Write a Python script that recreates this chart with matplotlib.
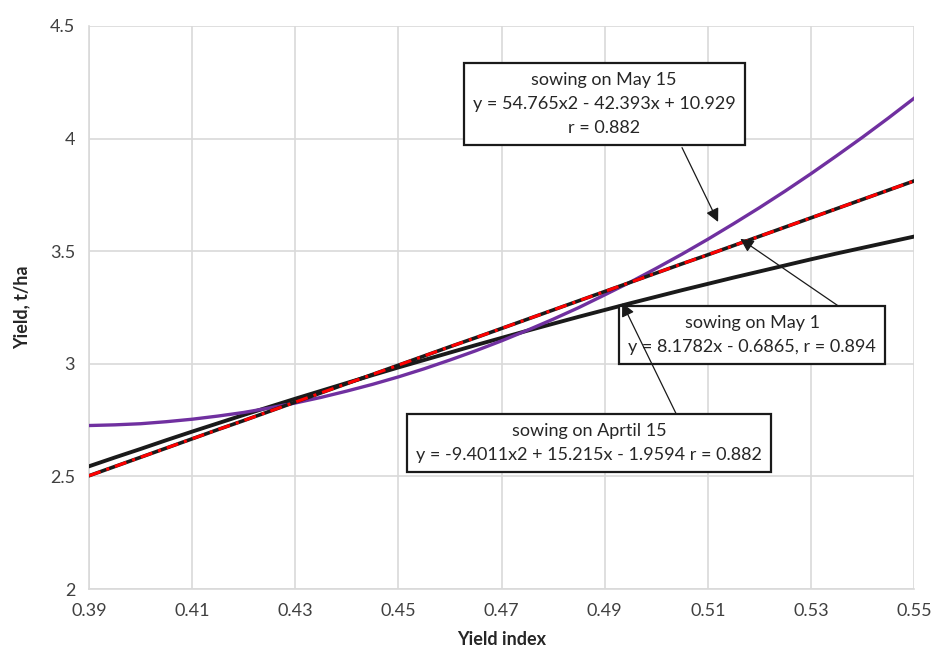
import numpy as np
import matplotlib.pyplot as plt

plt.rcParams['font.family'] = ['Lato', 'DejaVu Sans']

# Yield index (x) and yield (t/ha)
yield_index = [0.390, 0.395, 0.400, 0.405, 0.410, 0.415, 0.420, 0.425, 0.430,
               0.435, 0.440, 0.445, 0.450, 0.455, 0.460, 0.465, 0.470, 0.475,
               0.480, 0.485, 0.490, 0.495, 0.500, 0.505, 0.510, 0.515, 0.520,
               0.525, 0.530, 0.535, 0.540, 0.545, 0.550]
may15 = [2.726, 2.729, 2.734, 2.743, 2.754, 2.768, 2.784, 2.804, 2.826,
         2.851, 2.879, 2.909, 2.942, 2.978, 3.017, 3.058, 3.102, 3.149,
         3.198, 3.250, 3.306, 3.363, 3.424, 3.487, 3.553, 3.622, 3.693,
         3.767, 3.844, 3.924, 4.006, 4.091, 4.179]
may1 = [2.503, 2.544, 2.585, 2.626, 2.667, 2.708, 2.748, 2.789, 2.830,
        2.871, 2.912, 2.953, 2.994, 3.035, 3.076, 3.116, 3.157, 3.198,
        3.239, 3.280, 3.321, 3.362, 3.403, 3.444, 3.484, 3.525, 3.566,
        3.607, 3.648, 3.689, 3.730, 3.771, 3.812]
april15 = [2.545, 2.584, 2.622, 2.661, 2.699, 2.736, 2.773, 2.809, 2.845,
           2.880, 2.915, 2.950, 2.984, 3.017, 3.050, 3.083, 3.115, 3.147,
           3.178, 3.209, 3.239, 3.269, 3.298, 3.327, 3.355, 3.383, 3.410,
           3.437, 3.464, 3.490, 3.515, 3.540, 3.565]

x_ticks = [0.39, 0.41, 0.43, 0.45, 0.47, 0.49, 0.51, 0.53, 0.55]
y_ticks = [2, 2.5, 3, 3.5, 4, 4.5]

label_may15 = "sowing on May 15\ny = 54.765x2 - 42.393x + 10.929\nr = 0.882"
label_may1 = "sowing on May 1\ny = 8.1782x - 0.6865, r = 0.894"
label_apr15 = "sowing on Aprtil 15\ny = -9.4011x2 + 15.215x - 1.9594 r = 0.882"

fig = plt.figure(figsize=(9.33, 6.5), dpi=100)
ax = fig.add_axes([0.0954, 0.0938, 0.8843, 0.8662])

grid_col = '#d9d9d9'
ax.plot(yield_index, april15, color='#1a1a1a', lw=2.8, zorder=3)
ax.plot(yield_index, may15, color='#7030a0', lw=2.4, zorder=4)
# May 1: black line under a red dash-dot line
ax.plot(yield_index, may1, color='#1a1a1a', lw=2.6, zorder=5)
ax.plot(yield_index, may1, color='#ff0000', lw=2.2, linestyle=(0, (4, 2, 1, 2)), zorder=6)

ax.set_xlim(0.39, 0.55)
ax.set_ylim(2, 4.5)
ax.set_xticks(x_ticks)
ax.set_xticklabels([f'{v:.2f}' for v in x_ticks])
ax.set_yticks(y_ticks)
ax.set_yticklabels(['2', '2.5', '3', '3.5', '4', '4.5'])
ax.tick_params(length=0, labelsize=13, colors='#404040', pad=10)
ax.grid(True, color=grid_col, lw=1.2)
ax.set_axisbelow(True)
for s in ['top', 'right']:
    ax.spines[s].set_visible(False)
for s in ['left', 'bottom']:
    ax.spines[s].set_color(grid_col)
    ax.spines[s].set_linewidth(1.2)

ax.set_xlabel('Yield index', fontsize=13, fontweight='bold', color='#262626', labelpad=9)
ax.set_ylabel('Yield, t/ha', fontsize=13, fontweight='bold', color='#262626', labelpad=14)

box = dict(boxstyle='square,pad=0.5', fc='white', ec='#1a1a1a', lw=1.6)
arrow = dict(arrowstyle='-|>', color='#1a1a1a', lw=0.9, mutation_scale=20, shrinkA=0, shrinkB=0)

ax.text(0.4899, 4.154, label_may15, ha='center', va='center', fontsize=13,
        linespacing=1.6, color='#262626', bbox=box, zorder=8)
ax.text(0.5186, 3.128, label_may1, ha='center', va='center', fontsize=13,
        linespacing=1.6, color='#262626', bbox=box, zorder=8)
ax.text(0.487, 2.648, label_apr15, ha='center', va='center', fontsize=13,
        linespacing=1.6, color='#262626', bbox=box, zorder=8)

ax.annotate('', xy=(0.512, 3.63), xytext=(0.505, 3.96), arrowprops=arrow, zorder=9)
ax.annotate('', xy=(0.5163, 3.555), xytext=(0.5353, 3.257), arrowprops=arrow, zorder=9)
ax.annotate('', xy=(0.4934, 3.27), xytext=(0.5038, 2.781), arrowprops=arrow, zorder=9)

plt.savefig('out.png', dpi=100)
